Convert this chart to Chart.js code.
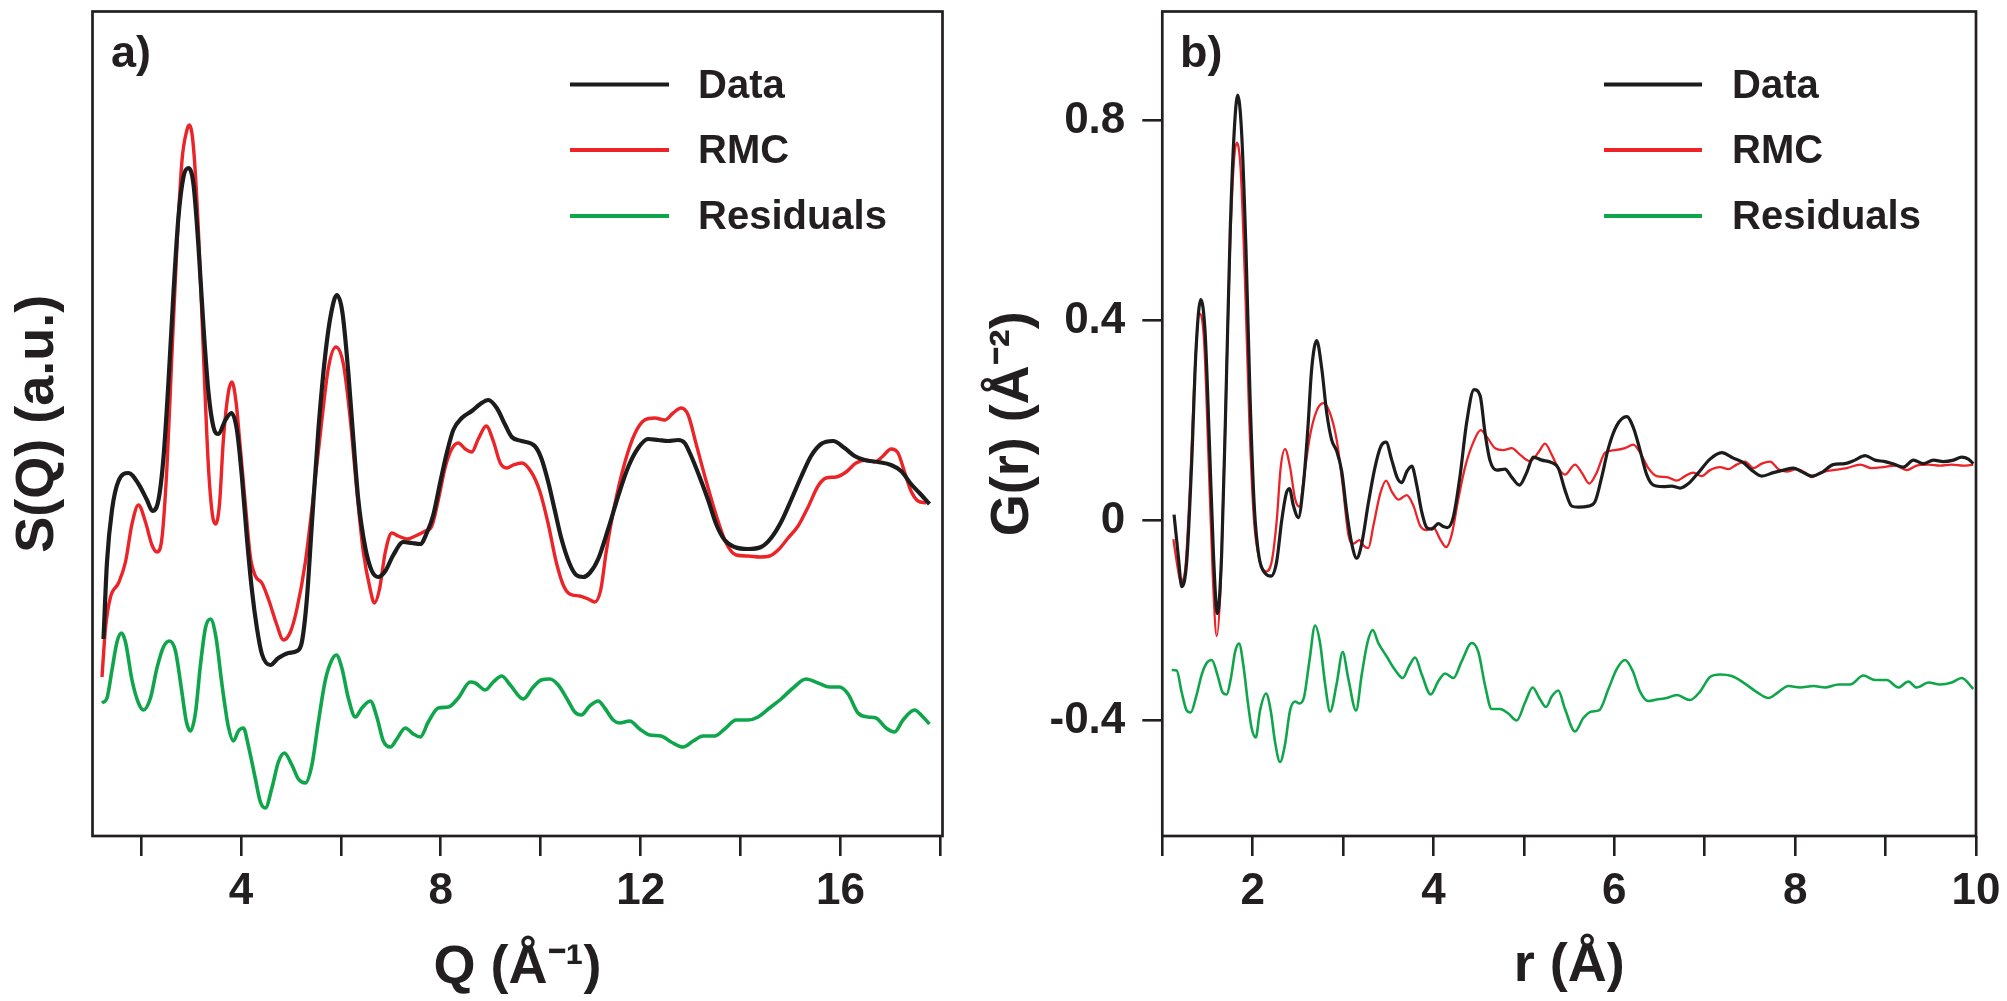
<!DOCTYPE html>
<html>
<head>
<meta charset="utf-8">
<script src="https://cdn.jsdelivr.net/npm/chart.js@4.4.1/dist/chart.umd.min.js"></script>
<style>
  html, body { margin: 0; padding: 0; background: #ffffff; }
  #wrap { position: relative; width: 2007px; height: 1001px; overflow: hidden; }
  canvas { position: absolute; top: 0; }
  #chartA { left: 0; }
  #chartB { left: 950px; }
</style>
</head>
<body>
<div id="wrap">
  <canvas id="chartA" width="1000" height="1001"></canvas>
  <canvas id="chartB" width="1057" height="1001"></canvas>
</div>
<script>
// ---- panel a) S(Q), arbitrary units ----
const qData = [1.25,1.32,1.42,1.55,1.75,1.95,2.12,2.23,2.35,2.45,2.55,2.65,2.75,2.85,2.95,3.05,3.15,3.25,3.35,3.45,3.55,3.69,3.81,3.92,4.02,4.12,4.22,4.32,4.42,4.59,4.75,4.95,5.12,5.22,5.32,5.42,5.55,5.69,5.81,5.92,6.03,6.15,6.25,6.35,6.49,6.62,6.75,6.89,7.05,7.25,7.42,7.59,7.72,7.85,7.99,8.12,8.25,8.42,8.62,8.79,8.95,9.12,9.29,9.42,9.62,9.88,10.01,10.15,10.28,10.41,10.58,10.71,10.85,10.98,11.15,11.35,11.55,11.75,11.95,12.15,12.35,12.55,12.75,12.88,13.01,13.18,13.35,13.51,13.68,13.88,14.15,14.41,14.61,14.81,15.01,15.21,15.41,15.61,15.85,16.08,16.28,16.48,16.75,17.01,17.21,17.41,17.58,17.78];
const sData = [1.97,2.74,3.26,3.55,3.63,3.52,3.36,3.25,3.36,3.78,4.54,5.43,6.19,6.59,6.68,6.52,5.90,5.10,4.44,4.09,4.02,4.16,4.23,4.06,3.59,2.98,2.46,2.08,1.82,1.71,1.78,1.83,1.85,1.94,2.37,3.12,4.06,4.82,5.24,5.41,5.24,4.63,3.97,3.36,2.88,2.65,2.59,2.65,2.81,2.94,2.93,2.92,3.03,3.21,3.54,3.83,4.06,4.18,4.25,4.32,4.36,4.28,4.11,3.99,3.95,3.90,3.78,3.54,3.26,2.98,2.72,2.61,2.59,2.63,2.77,3.07,3.40,3.69,3.88,3.97,3.96,3.95,3.96,3.93,3.80,3.59,3.36,3.12,2.96,2.89,2.87,2.89,2.98,3.14,3.36,3.59,3.80,3.92,3.95,3.88,3.80,3.76,3.74,3.71,3.65,3.52,3.43,3.32];

const qRmc = [1.22,1.29,1.39,1.55,1.69,1.82,1.95,2.09,2.22,2.32,2.42,2.52,2.62,2.72,2.82,2.92,2.97,3.05,3.15,3.25,3.35,3.43,3.49,3.57,3.65,3.75,3.82,3.90,3.99,4.09,4.19,4.29,4.42,4.55,4.72,4.85,4.99,5.12,5.29,5.45,5.62,5.75,5.90,6.05,6.19,6.32,6.45,6.59,6.67,6.77,6.89,7.02,7.15,7.32,7.49,7.69,7.82,7.95,8.09,8.22,8.35,8.49,8.62,8.75,8.91,9.05,9.19,9.32,9.45,9.62,9.81,9.98,10.15,10.31,10.45,10.58,10.78,10.95,11.08,11.2,11.31,11.48,11.68,11.88,12.08,12.28,12.48,12.65,12.81,12.95,13.11,13.31,13.51,13.71,13.91,14.15,14.38,14.58,14.75,14.95,15.15,15.35,15.55,15.71,15.91,16.11,16.31,16.51,16.68,16.85,17.01,17.15,17.28,17.41,17.55,17.71];
const sRmc = [1.59,2.08,2.39,2.53,2.74,3.12,3.31,3.14,2.91,2.84,2.98,3.69,4.82,5.90,6.75,7.06,7.11,6.89,6.05,4.82,3.69,3.21,3.12,3.31,3.97,4.44,4.54,4.35,3.87,3.31,2.79,2.60,2.53,2.37,2.11,1.96,2.04,2.27,2.74,3.40,4.16,4.68,4.89,4.72,4.16,3.45,2.84,2.46,2.33,2.46,2.84,3.03,3.00,2.97,3.00,3.05,3.10,3.36,3.69,3.87,3.93,3.87,3.84,3.97,4.10,3.95,3.73,3.68,3.71,3.73,3.64,3.45,3.12,2.74,2.51,2.42,2.40,2.37,2.34,2.46,2.84,3.31,3.73,4.02,4.16,4.18,4.16,4.23,4.28,4.21,3.92,3.55,3.21,2.93,2.81,2.80,2.79,2.80,2.86,2.98,3.10,3.29,3.50,3.58,3.59,3.64,3.73,3.76,3.74,3.80,3.87,3.83,3.64,3.45,3.35,3.33];

const qRes = [1.22,1.32,1.42,1.52,1.61,1.69,1.82,1.95,2.05,2.19,2.32,2.45,2.57,2.69,2.81,2.91,2.99,3.09,3.19,3.29,3.39,3.50,3.62,3.75,3.85,3.95,4.05,4.15,4.29,4.39,4.49,4.62,4.75,4.87,5.02,5.15,5.29,5.42,5.55,5.69,5.81,5.91,6.02,6.15,6.29,6.42,6.59,6.72,6.85,6.99,7.12,7.29,7.45,7.59,7.75,7.95,8.15,8.35,8.59,8.69,8.89,9.05,9.22,9.39,9.65,9.85,10.01,10.18,10.35,10.55,10.68,10.81,10.98,11.15,11.28,11.45,11.58,11.78,11.98,12.18,12.41,12.61,12.85,13.05,13.25,13.48,13.68,13.91,14.15,14.35,14.58,14.81,15.05,15.31,15.55,15.78,15.98,16.15,16.35,16.55,16.71,16.91,17.08,17.25,17.48,17.65,17.78];
const sRes = [1.33,1.38,1.66,1.94,2.03,1.94,1.56,1.33,1.26,1.38,1.68,1.89,1.95,1.85,1.47,1.14,1.05,1.23,1.71,2.08,2.17,1.99,1.52,1.09,0.95,1.05,1.08,0.90,0.57,0.34,0.28,0.48,0.74,0.83,0.71,0.57,0.53,0.71,1.14,1.56,1.75,1.81,1.68,1.38,1.19,1.28,1.35,1.19,0.95,0.89,0.97,1.08,1.02,0.99,1.14,1.28,1.29,1.38,1.54,1.53,1.46,1.54,1.60,1.51,1.37,1.49,1.56,1.57,1.51,1.35,1.24,1.21,1.30,1.35,1.28,1.16,1.13,1.15,1.07,1.01,1.00,0.94,0.89,0.95,1.00,1.00,1.07,1.16,1.16,1.19,1.28,1.37,1.48,1.57,1.53,1.49,1.49,1.42,1.23,1.19,1.18,1.08,1.04,1.16,1.26,1.19,1.12];

const qTicks = [2, 4, 6, 8, 10, 12, 14, 16, 18];
const qLabels = [4, 8, 12, 16];

// ---- panel b) G(r) ----
const rData = [1.13,1.178,1.215,1.27,1.325,1.373,1.425,1.473,1.52,1.565,1.609,1.657,1.705,1.749,1.794,1.834,1.878,1.926,1.97,2.018,2.07,2.136,2.203,2.265,2.32,2.369,2.406,2.45,2.505,2.56,2.608,2.653,2.708,2.763,2.819,2.874,2.929,2.985,3.04,3.095,3.15,3.206,3.279,3.353,3.416,3.475,3.538,3.60,3.648,3.704,3.759,3.814,3.87,3.925,3.98,4.054,4.109,4.153,4.22,4.293,4.367,4.448,4.515,4.57,4.625,4.70,4.79,4.864,4.95,5.03,5.104,5.196,5.307,5.38,5.454,5.528,5.602,5.712,5.786,5.86,5.934,6.026,6.137,6.21,6.284,6.358,6.432,6.542,6.634,6.727,6.82,6.93,7.058,7.187,7.316,7.427,7.519,7.63,7.759,7.87,7.98,8.07,8.183,8.293,8.42,8.55,8.66,8.773,8.884,8.994,9.105,9.197,9.308,9.418,9.529,9.64,9.75,9.842,9.916,9.97];
const gData = [0.012,-0.073,-0.132,-0.082,0.116,0.342,0.442,0.378,0.161,-0.064,-0.186,-0.064,0.251,0.567,0.774,0.851,0.774,0.540,0.251,0.026,-0.073,-0.105,-0.111,-0.082,-0.001,0.053,0.064,0.030,0.006,0.071,0.179,0.305,0.360,0.305,0.215,0.161,0.139,0.098,0.017,-0.046,-0.075,-0.046,0.035,0.107,0.148,0.157,0.121,0.085,0.076,0.098,0.109,0.071,0.017,-0.014,-0.017,-0.006,-0.012,-0.014,0.008,0.089,0.197,0.262,0.25,0.175,0.12,0.101,0.103,0.087,0.071,0.096,0.127,0.121,0.116,0.105,0.061,0.029,0.027,0.029,0.038,0.087,0.145,0.190,0.208,0.186,0.141,0.092,0.071,0.068,0.069,0.065,0.074,0.096,0.123,0.136,0.125,0.116,0.101,0.089,0.096,0.101,0.105,0.098,0.089,0.096,0.112,0.114,0.121,0.130,0.121,0.118,0.112,0.107,0.121,0.114,0.121,0.118,0.121,0.127,0.123,0.114];

const rRmc = [1.122,1.167,1.204,1.252,1.307,1.362,1.41,1.462,1.513,1.558,1.602,1.646,1.694,1.742,1.786,1.823,1.867,1.915,1.963,2.015,2.081,2.147,2.21,2.265,2.31,2.358,2.413,2.468,2.516,2.568,2.634,2.708,2.782,2.855,2.929,2.995,3.058,3.114,3.18,3.232,3.279,3.335,3.409,3.475,3.538,3.611,3.704,3.777,3.851,3.925,3.999,4.072,4.139,4.201,4.275,4.349,4.441,4.522,4.588,4.68,4.772,4.864,4.956,5.067,5.159,5.233,5.307,5.38,5.454,5.565,5.639,5.723,5.805,5.897,6.007,6.118,6.21,6.284,6.376,6.468,6.579,6.69,6.782,6.874,6.966,7.058,7.169,7.261,7.353,7.445,7.538,7.63,7.722,7.814,7.906,8.017,8.109,8.183,8.275,8.42,8.57,8.72,8.846,8.976,9.105,9.234,9.344,9.473,9.603,9.732,9.86,9.97];
const gRmc = [-0.037,-0.091,-0.123,-0.100,0.071,0.305,0.414,0.360,0.116,-0.109,-0.231,-0.127,0.179,0.504,0.702,0.756,0.702,0.477,0.197,-0.001,-0.082,-0.102,-0.082,-0.001,0.107,0.143,0.107,0.044,0.028,0.089,0.170,0.220,0.235,0.215,0.161,0.071,-0.028,-0.046,-0.039,-0.051,-0.055,-0.010,0.053,0.080,0.058,0.042,0.051,0.030,-0.010,-0.019,-0.014,-0.037,-0.053,-0.028,0.044,0.107,0.157,0.181,0.168,0.145,0.141,0.145,0.132,0.119,0.136,0.154,0.132,0.105,0.092,0.112,0.096,0.074,0.096,0.136,0.141,0.145,0.152,0.136,0.105,0.089,0.087,0.080,0.089,0.096,0.089,0.101,0.107,0.103,0.112,0.118,0.105,0.114,0.118,0.103,0.098,0.103,0.096,0.087,0.096,0.101,0.105,0.112,0.105,0.107,0.110,0.101,0.110,0.112,0.110,0.112,0.110,0.112];

const rRes = [1.104,1.159,1.215,1.27,1.314,1.373,1.436,1.491,1.547,1.609,1.668,1.712,1.757,1.805,1.849,1.897,1.945,1.989,2.033,2.081,2.147,2.199,2.247,2.302,2.358,2.413,2.468,2.516,2.568,2.627,2.69,2.745,2.80,2.856,2.929,2.995,3.058,3.143,3.206,3.268,3.327,3.39,3.482,3.575,3.659,3.733,3.796,3.87,3.969,4.054,4.128,4.22,4.312,4.423,4.496,4.57,4.643,4.735,4.827,4.92,5.012,5.097,5.17,5.244,5.307,5.38,5.454,5.565,5.657,5.749,5.834,5.934,6.026,6.118,6.203,6.284,6.376,6.468,6.579,6.69,6.837,6.948,7.058,7.169,7.298,7.427,7.575,7.704,7.814,7.925,8.054,8.201,8.33,8.478,8.607,8.754,8.884,9.013,9.142,9.252,9.344,9.473,9.603,9.732,9.842,9.97];
const gRes = [-0.299,-0.300,-0.344,-0.380,-0.384,-0.353,-0.308,-0.285,-0.279,-0.308,-0.344,-0.348,-0.317,-0.263,-0.246,-0.290,-0.362,-0.416,-0.434,-0.380,-0.346,-0.380,-0.443,-0.483,-0.447,-0.380,-0.362,-0.366,-0.353,-0.281,-0.210,-0.245,-0.326,-0.382,-0.326,-0.263,-0.317,-0.380,-0.308,-0.245,-0.219,-0.245,-0.272,-0.299,-0.315,-0.290,-0.274,-0.308,-0.348,-0.321,-0.306,-0.315,-0.281,-0.245,-0.263,-0.33,-0.377,-0.377,-0.386,-0.400,-0.364,-0.334,-0.355,-0.373,-0.352,-0.340,-0.377,-0.422,-0.395,-0.382,-0.379,-0.337,-0.297,-0.279,-0.301,-0.342,-0.361,-0.358,-0.355,-0.349,-0.359,-0.342,-0.313,-0.308,-0.311,-0.324,-0.343,-0.355,-0.343,-0.331,-0.334,-0.331,-0.334,-0.328,-0.328,-0.310,-0.319,-0.319,-0.334,-0.322,-0.334,-0.324,-0.328,-0.324,-0.315,-0.337];

const rTicks = [1, 2, 3, 4, 5, 6, 7, 8, 9, 10];
const rLabels = [2, 4, 6, 8, 10];
const gTicks = [-0.4, 0, 0.4, 0.8];

const seriesNames = ['Data', 'RMC', 'Residuals'];
const panelNames = ['a)', 'b)'];

// colours and fonts
const BLACK = '#1c1c1c';
const RED = '#ec2327';
const GREEN = '#0fa64b';
const INK = '#231f20';
const FONT = '"Liberation Sans", Arial, Helvetica, sans-serif';

Chart.defaults.font.family = FONT;
Chart.defaults.color = INK;

function zip(xs, ys) {
    return xs.map((x, i) => ({ x: x, y: ys[i] }));
}

// frame around the plot area, panel letter and the inside legend
const panelDeco = {
    id: 'panelDeco',
    afterDraw(chart, args, opts) {
        const ctx = chart.ctx;
        const a = chart.chartArea;
        ctx.save();
        ctx.strokeStyle = INK;
        ctx.lineWidth = 2.7;
        ctx.strokeRect(a.left, a.top, a.right - a.left, a.bottom - a.top);

        ctx.fillStyle = INK;
        ctx.font = 'bold 45px ' + FONT;
        ctx.textAlign = 'left';
        ctx.textBaseline = 'alphabetic';
        ctx.fillText(opts.label, opts.labelX, opts.labelY);

        ctx.font = 'bold 40px ' + FONT;
        ctx.textBaseline = 'middle';
        chart.data.datasets.forEach((ds, i) => {
            const y = opts.rowY[i];
            ctx.strokeStyle = ds.borderColor;
            ctx.lineWidth = 4;
            ctx.beginPath();
            ctx.moveTo(opts.lineX0, y);
            ctx.lineTo(opts.lineX1, y);
            ctx.stroke();
            ctx.fillText(ds.label, opts.textX, y + 2);
        });
        ctx.restore();
    }
};

function tickFont() {
    return { family: FONT, size: 44, weight: 'bold' };
}
function titleFont() {
    return { family: FONT, size: 54, weight: 'bold' };
}

// ---- chart a) ----
new Chart(document.getElementById('chartA'), {
    type: 'line',
    data: {
        datasets: [
            { label: seriesNames[0], data: zip(qData, sData), borderColor: BLACK, borderWidth: 4.2 },
            { label: seriesNames[1], data: zip(qRmc, sRmc), borderColor: RED, borderWidth: 3.4 },
            { label: seriesNames[2], data: zip(qRes, sRes), borderColor: GREEN, borderWidth: 3.6 }
        ]
    },
    options: {
        responsive: false,
        animation: false,
        events: [],
        elements: { point: { radius: 0 }, line: { cubicInterpolationMode: 'monotone' } },
        layout: { padding: { left: 0, right: 57.5, top: 11.5, bottom: 0 } },
        plugins: {
            legend: { display: false },
            tooltip: { enabled: false },
            panelDeco: {
                label: panelNames[0], labelX: 111, labelY: 67,
                lineX0: 570, lineX1: 669, textX: 698, rowY: [84.5, 150, 216]
            }
        },
        scales: {
            x: {
                type: 'linear', min: 1.03, max: 18.04,
                afterBuildTicks: s => { s.ticks = qTicks.map(v => ({ value: v })); },
                afterFit: s => { s.height = 165; s.paddingLeft = 0; s.paddingRight = 0; },
                border: { display: false },
                grid: { drawOnChartArea: false, tickLength: 20, color: INK, lineWidth: 2.6 },
                ticks: {
                    autoSkip: false, maxRotation: 0, minRotation: 0, padding: 9,
                    color: INK, font: tickFont(),
                    callback: v => qLabels.includes(v) ? String(v) : ''
                },
                title: { display: true, text: 'Q (Å⁻¹)', color: INK, font: titleFont(), padding: { top: 0, bottom: 0 } }
            },
            y: {
                type: 'linear', min: 0, max: 8.245,
                afterFit: s => { s.width = 92.5; s.paddingTop = 0; s.paddingBottom = 0; },
                border: { display: false },
                grid: { display: false },
                ticks: { display: false },
                title: { display: true, text: 'S(Q) (a.u.)', color: INK, font: titleFont(), padding: { top: 6, bottom: 0 } }
            }
        }
    },
    plugins: [panelDeco]
});

// ---- chart b) ----
new Chart(document.getElementById('chartB'), {
    type: 'line',
    data: {
        datasets: [
            { label: seriesNames[0], data: zip(rData, gData), borderColor: BLACK, borderWidth: 3.2 },
            { label: seriesNames[1], data: zip(rRmc, gRmc), borderColor: RED, borderWidth: 2.3 },
            { label: seriesNames[2], data: zip(rRes, gRes), borderColor: GREEN, borderWidth: 2.6 }
        ]
    },
    options: {
        responsive: false,
        animation: false,
        events: [],
        elements: { point: { radius: 0 }, line: { cubicInterpolationMode: 'monotone' } },
        layout: { padding: { left: 0, right: 31, top: 11.5, bottom: 0 } },
        plugins: {
            legend: { display: false },
            tooltip: { enabled: false },
            panelDeco: {
                label: panelNames[1], labelX: 230, labelY: 67,
                lineX0: 654, lineX1: 752, textX: 782, rowY: [84.5, 150, 216]
            }
        },
        scales: {
            x: {
                type: 'linear', min: 1, max: 10,
                afterBuildTicks: s => { s.ticks = rTicks.map(v => ({ value: v })); },
                afterFit: s => { s.height = 165; s.paddingLeft = 0; s.paddingRight = 0; },
                border: { display: false },
                grid: { drawOnChartArea: false, tickLength: 20, color: INK, lineWidth: 2.6 },
                ticks: {
                    autoSkip: false, maxRotation: 0, minRotation: 0, padding: 9,
                    color: INK, font: tickFont(),
                    callback: v => rLabels.includes(v) ? String(v) : ''
                },
                title: { display: true, text: 'r (Å)', color: INK, font: titleFont(), padding: { top: 0, bottom: 2 } }
            },
            y: {
                type: 'linear', min: -0.631, max: 1.0185,
                afterBuildTicks: s => { s.ticks = gTicks.map(v => ({ value: v })); },
                afterFit: s => { s.width = 212.3; s.paddingTop = 0; s.paddingBottom = 0; },
                border: { display: false },
                grid: { drawOnChartArea: false, tickLength: 20, color: INK, lineWidth: 2.6 },
                ticks: {
                    autoSkip: false, padding: 17, color: INK, font: tickFont(),
                    callback: v => v === 0 ? '0' : v.toFixed(1)
                },
                title: { display: true, text: 'G(r) (Å⁻²)', color: INK, font: titleFont(), padding: { top: 31, bottom: 0 } }
            }
        }
    },
    plugins: [panelDeco]
});
</script>
</body>
</html>
